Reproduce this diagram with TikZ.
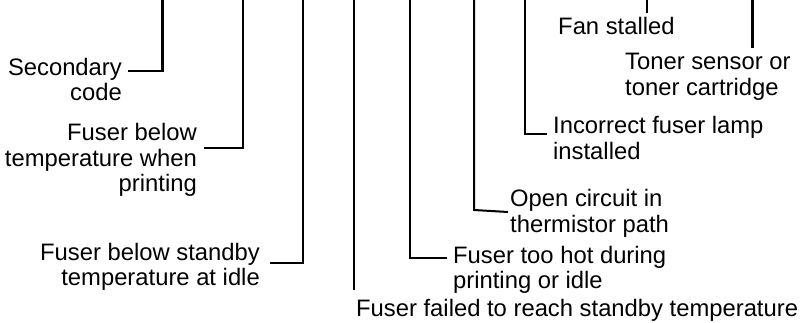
\documentclass[tikz,border=0pt]{standalone}
\usepackage{fontspec}
\setmainfont{Liberation Sans}
\usetikzlibrary{calc}
\begin{document}
\begin{tikzpicture}[x=1pt, y=-1pt,
    lead/.style={line width=2.7pt},
    lbl/.style={inner sep=0pt, font=\fontsize{23.8}{25.5}\selectfont},
    lblleft/.style={lbl, anchor=base east, align=right},
    lblright/.style={lbl, anchor=base west, align=left}]
    % --- 参数 ---
    \def\gap{25.5}   % 行距 (base 锚点在最后一行)

    % --- 画布大小 ---
    \useasboundingbox (0,0) rectangle (800,323);

    % --- 引线的上端 (图的上边) ---
    \coordinate (sectop)   at (162.5, 0);
    \coordinate (printtop) at (243, 0);
    \coordinate (idletop)  at (303, 0);
    \coordinate (failtop)  at (354, 0);
    \coordinate (hottop)   at (410, 0);
    \coordinate (opentop)  at (474, 0);
    \coordinate (lamptop)  at (525, 0);
    \coordinate (fantop)   at (647, 0);
    \coordinate (tonertop) at (752.5, 0);

    % --- 左侧标签 (右对齐) ---
    \node[lblleft] (sec)   at (122, 75.5+\gap)   {Secondary\\code};
    \node[lblleft] (print) at (197, 141+2*\gap)  {Fuser below\\temperature when\\printing};
    \node[lblleft] (idle)  at (260, 260+\gap)    {Fuser below standby\\temperature at idle};

    % --- 右侧标签 (左对齐) ---
    \node[lblright] (fail)  at (356, 316)       {Fuser failed to reach standby temperature};
    \node[lblright] (hot)   at (453, 263+\gap)  {Fuser too hot during\\printing or idle};
    \node[lblright] (open)  at (510, 207+\gap)  {Open circuit in\\thermistor path};
    \node[lblright] (lamp)  at (553, 134+\gap)  {Incorrect fuser lamp\\installed};
    \node[lblright] (fan)   at (558, 35)        {Fan stalled};
    \node[lblright] (toner) at (625, 70+\gap)   {Toner sensor or\\toner cartridge};

    % --- 引线 ---
    \draw[lead] (sectop)   |- ($(sec.base east)+(6,-4.5-\gap)$);
    \draw[lead] (printtop) |- ($(print.base east)+(7,7-2*\gap)$);
    \draw[lead] (idletop)  |- ($(idle.base east)+(10,3-\gap)$);
    \draw[lead] (failtop)  -- ([yshift=9pt]failtop |- fail.north);
    \draw[lead] (hottop)   |- ($(hot.base west)+(-6,-5-\gap)$);
    % 这一段稍微向右下倾斜
    \coordinate (openbend) at ($(opentop |- open.base west)+(0,3-\gap)$);
    \draw[lead, line width=2pt] (opentop) -- (openbend) -- ($(open.base west)+(-2,5-\gap)$);
    \draw[lead] (lamptop)  |- ($(lamp.base west)+(-6,-\gap)$);
    \draw[lead] (fantop)   -- ([yshift=5pt]fantop |- fan.north);
    \draw[lead] (tonertop) -- ([yshift=5pt]tonertop |- toner.north);

\end{tikzpicture}
\end{document}
